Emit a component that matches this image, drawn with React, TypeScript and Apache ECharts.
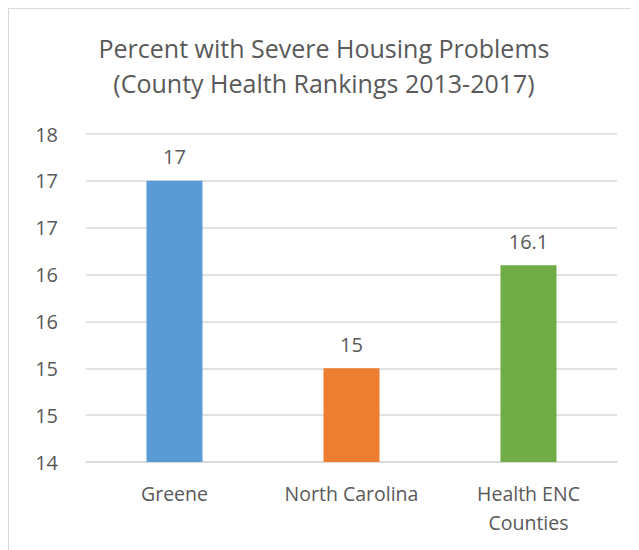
import React, { useEffect, useRef } from "react";
import * as echarts from "echarts";

const titleLines = ["Percent with Severe Housing Problems", "(County Health Rankings 2013-2017)"];
const categories = ["Greene", "North Carolina", "Health ENC\nCounties"];
const values = [17, 15, 16.1];
const valueLabels = ["17", "15", "16.1"];
const barColors = ["#5b9bd5", "#ed7d31", "#70ad47"];
const yTickLabels = ["14", "15", "15", "16", "16", "17", "17", "18"];

export default function App() {
  const ref = useRef<HTMLDivElement>(null);
  useEffect(() => {
    if (!ref.current) return;
    const chart = echarts.init(ref.current, null, { renderer: "svg" });
    const textColor = "#595959";
    const font = "'Open Sans', 'Noto Sans', sans-serif";
    chart.setOption({
      animation: false,
      title: {
        text: titleLines.join("\n"),
        left: "center",
        top: 21,
        padding: 0,
        textStyle: {
          color: textColor,
          fontFamily: font,
          fontSize: 25,
          fontWeight: "normal",
          lineHeight: 35,
        },
      },
      grid: { left: 77, right: 22, top: 125, bottom: 88, containLabel: false },
      xAxis: {
        type: "category",
        data: categories,
        axisTick: { show: false },
        axisLine: { show: true, lineStyle: { color: "#d9d9d9", width: 1.5 } },
        axisLabel: {
          interval: 0,
          hideOverlap: false,
          color: textColor,
          fontFamily: font,
          fontSize: 19.5,
          lineHeight: 29,
          margin: 17,
        },
      },
      yAxis: {
        type: "value",
        min: 14,
        max: 17.5,
        interval: 0.5,
        axisLine: { show: false },
        axisTick: { show: false },
        splitLine: { lineStyle: { color: "#d9d9d9", width: 1.5 } },
        axisLabel: {
          color: textColor,
          fontFamily: font,
          fontSize: 20,
          margin: 28,
          formatter: (_v: number, i: number) => yTickLabels[i],
        },
      },
      series: [
        {
          type: "bar",
          barWidth: 56,
          data: values.map((v, i) => ({ value: v, itemStyle: { color: barColors[i] } })),
          label: {
            show: true,
            position: "top",
            distance: 14,
            color: textColor,
            fontFamily: font,
            fontSize: 20,
            formatter: (p: any) => valueLabels[p.dataIndex],
          },
        },
      ],
    });
    return () => chart.dispose();
  }, []);
  return (
    <div
      ref={ref}
      style={{
        width: 631,
        height: 542,
        boxSizing: "border-box",
        borderLeft: "1px solid #d9d9d9",
        borderTop: "1px solid #d9d9d9",
        background: "#fff",
      }}
    />
  );
}
